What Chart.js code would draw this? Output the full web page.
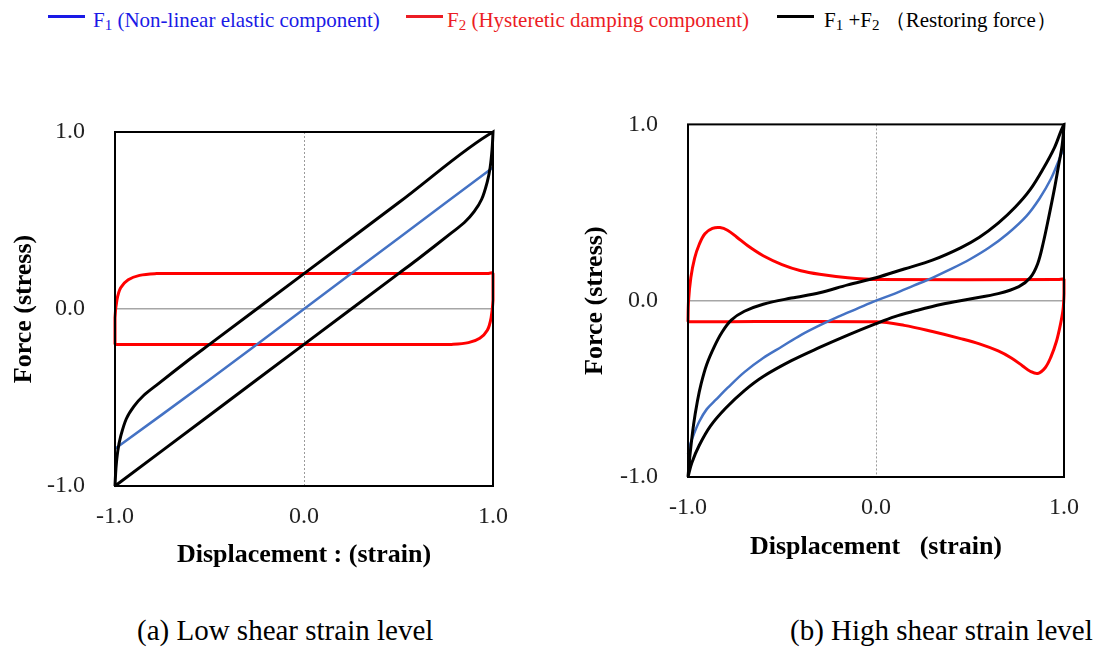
<!DOCTYPE html>
<html>
<head>
<meta charset="utf-8">
<script src="https://cdn.jsdelivr.net/npm/chart.js@4.4.1/dist/chart.umd.min.js"></script>
<style>
  body { margin: 0; width: 1095px; height: 653px; position: relative; background: #fff; overflow: hidden;
         font-family: "Liberation Serif", "Times New Roman", serif; }
  canvas { position: absolute; }
  .leg { position: absolute; top: 10px; font-size: 21px; line-height: 20px; white-space: nowrap;
         font-family: "Liberation Serif", serif; }
  .leg i { position: absolute; top: 5px; height: 3px; width: 37px; }
  .leg sub { font-size: 15px; vertical-align: -3px; line-height: 0; }
  .cap { position: absolute; top: 616px; font-size: 29px; line-height: 29px; white-space: nowrap; color: #000; }
</style>
</head>
<body>
<div class="leg" style="left:48px;color:#1a1ae6"><i style="left:0;background:#1a1ae6"></i><span style="margin-left:45px">F<sub>1</sub> (Non-linear elastic component)</span></div>
<div class="leg" style="left:406px;color:#ec1c24"><i style="left:0;background:#ec1c24"></i><span style="margin-left:41px">F<sub>2</sub> (Hysteretic damping component)</span></div>
<div class="leg" style="left:777px;color:#000"><i style="left:0;background:#000"></i><span style="margin-left:47px">F<sub>1</sub> +F<sub>2</sub> （Restoring force）</span></div>

<canvas id="lowChart" width="540" height="505" style="left:0;top:80px"></canvas>
<canvas id="highChart" width="535" height="505" style="left:560px;top:80px"></canvas>

<div class="cap" style="left:137px">(a) Low shear strain level</div>
<div class="cap" style="left:790px">(b) High shear strain level</div>

<script>
// (a) low shear strain level: [displacement, force]
const lowF1 = [[-1, -0.79], [-0.5, -0.4], [0, 0], [0.5, 0.4], [1, 0.8]];
const lowF2 = [[-1, -0.2], [-1, -0.05], [-0.99, 0.05], [-0.97, 0.12], [-0.93, 0.165], [-0.87, 0.19], [-0.78, 0.2],
  [-0.7, 0.2], [0.97, 0.2], [1, 0.2], [1, 0.05], [0.99, -0.05], [0.97, -0.12], [0.93, -0.165], [0.87, -0.19],
  [0.78, -0.2], [0.7, -0.2], [-0.97, -0.2], [-1, -0.2]];
const lowF12 = [[-1, -1], [-0.995, -0.9], [-0.985, -0.8], [-0.97, -0.72], [-0.94, -0.62], [-0.9, -0.55],
  [-0.85, -0.49], [-0.78, -0.43], [-0.6, -0.28], [-0.5, -0.2], [0, 0.2], [0.5, 0.6], [1, 1], [0.995, 0.9],
  [0.985, 0.8], [0.97, 0.72], [0.94, 0.62], [0.9, 0.55], [0.85, 0.49], [0.78, 0.43], [0.6, 0.28], [0.5, 0.2],
  [0, -0.2], [-0.5, -0.6], [-1, -1]];

// (b) high shear strain level
const highF1 = [[-1, -0.87], [-0.99, -0.82], [-0.97, -0.76], [-0.94, -0.685], [-0.9, -0.615], [-0.85, -0.56],
  [-0.79, -0.495], [-0.7, -0.405], [-0.6, -0.325], [-0.5, -0.26], [-0.4, -0.195], [-0.3, -0.14], [-0.2, -0.09],
  [-0.1, -0.045], [0, 0], [0.1, 0.04], [0.2, 0.085], [0.3, 0.13], [0.4, 0.18], [0.5, 0.235], [0.6, 0.3], [0.7, 0.38],
  [0.8, 0.48], [0.87, 0.58], [0.93, 0.69], [0.97, 0.79], [1, 0.87]];
const highF2 = [[-1, -0.12], [-0.997, 0], [-0.985, 0.13], [-0.965, 0.24], [-0.94, 0.32], [-0.91, 0.38], [-0.87, 0.41],
  [-0.83, 0.415], [-0.79, 0.4], [-0.74, 0.36], [-0.68, 0.31], [-0.6, 0.255], [-0.5, 0.205], [-0.4, 0.17],
  [-0.3, 0.15], [-0.15, 0.13], [0, 0.12], [0.97, 0.12], [1, 0.12], [1, 0.04], [0.995, -0.05], [0.98, -0.14],
  [0.96, -0.23], [0.93, -0.32], [0.9, -0.38], [0.86, -0.413], [0.82, -0.4], [0.78, -0.37], [0.72, -0.325],
  [0.65, -0.285], [0.55, -0.245], [0.45, -0.215], [0.3, -0.175], [0.15, -0.14], [0, -0.12], [-0.97, -0.12],
  [-1, -0.12]];
const highF12 = [[-1, -1], [-0.99, -0.88], [-0.97, -0.7], [-0.95, -0.57], [-0.93, -0.47], [-0.9, -0.36],
  [-0.86, -0.26], [-0.82, -0.18], [-0.77, -0.11], [-0.7, -0.06], [-0.6, -0.02], [-0.45, 0.015], [-0.3, 0.045],
  [-0.15, 0.09], [0, 0.13], [0.15, 0.18], [0.3, 0.23], [0.45, 0.3], [0.55, 0.36], [0.65, 0.44], [0.74, 0.53],
  [0.82, 0.63], [0.89, 0.75], [0.95, 0.87], [1, 1], [0.99, 0.88], [0.97, 0.76], [0.95, 0.64], [0.92, 0.48],
  [0.89, 0.33], [0.86, 0.21], [0.82, 0.13], [0.76, 0.08], [0.65, 0.04], [0.5, 0.01], [0.35, -0.02], [0.2, -0.06],
  [0.1, -0.09], [0, -0.13], [-0.15, -0.195], [-0.3, -0.265], [-0.45, -0.34], [-0.6, -0.43], [-0.7, -0.51],
  [-0.8, -0.61], [-0.88, -0.71], [-0.94, -0.82], [-0.98, -0.92], [-1, -1]];

const serif = '"Liberation Serif", "Times New Roman", serif';

// box round the plot area
const frame = {
  id: 'frame',
  afterDatasetsDraw(chart) {
    const { ctx, chartArea: a } = chart;
    ctx.save();
    ctx.strokeStyle = '#000';
    ctx.lineWidth = 2;
    ctx.strokeRect(a.left, a.top, a.right - a.left, a.bottom - a.top);
    ctx.restore();
  }
};

function series(points, color, width, order) {
  return {
    data: points.map(([x, y]) => ({ x, y })),
    showLine: true,
    borderColor: color,
    borderWidth: width,
    pointRadius: 0,
    tension: 0.35,
    clip: 4,
    order: order
  };
}

function makeChart(id, f1, f2, f12, s) {
  const ctx = document.getElementById(id).getContext('2d');
  return new Chart(ctx, {
    type: 'scatter',
    data: {
      datasets: [
        series(f12, '#000000', 3, 0),
        series(f1, '#4472c4', 2.5, 1),
        series(f2, '#ff0000', 3, 2)
      ]
    },
    options: {
      responsive: false,
      animation: false,
      layout: { padding: { top: s.top, right: s.right, bottom: 0, left: 0 } },
      plugins: { legend: { display: false }, tooltip: { enabled: false } },
      scales: {
        x: {
          type: 'linear', min: -1, max: 1,
          afterFit: (scale) => { scale.height = s.xh; },
          ticks: { stepSize: 1, padding: 16, maxRotation: 0, color: '#222',
                   font: { family: serif, size: 24 }, callback: (v) => v.toFixed(1) },
          grid: { drawTicks: false, lineWidth: 1,
                  color: (c) => (c.tick && c.tick.value === 0 ? '#9b9b9b' : 'rgba(0,0,0,0)') },
          border: { display: false, dash: [2, 2] },
          title: { display: true, text: s.xTitle, color: '#000',
                   font: { family: serif, size: 26, weight: 'bold' }, padding: { top: 0, bottom: s.xtp } }
        },
        y: {
          type: 'linear', min: -1, max: 1,
          afterFit: (scale) => { scale.width = s.yw; },
          ticks: { stepSize: 1, padding: 30, color: '#222',
                   font: { family: serif, size: 24 }, callback: (v) => v.toFixed(1) },
          grid: { drawTicks: false, lineWidth: 1.5,
                  color: (c) => (c.tick && c.tick.value === 0 ? '#a6a6a6' : 'rgba(0,0,0,0)') },
          border: { display: false },
          title: { display: true, text: 'Force (stress)', color: '#000',
                   font: { family: serif, size: 26, weight: 'bold' }, padding: { top: s.ytp, bottom: 0 } }
        }
      }
    },
    plugins: [frame]
  });
}

const lowChart = makeChart('lowChart', lowF1, lowF2, lowF12,
  { top: 52, right: 47, xh: 99, yw: 115, xtp: 14, ytp: 9, xTitle: 'Displacement : (strain)' });
const highChart = makeChart('highChart', highF1, highF2, highF12,
  { top: 43, right: 23, xh: 108, yw: 128, xtp: 22, ytp: 20, xTitle: 'Displacement   (strain)' });
</script>
</body>
</html>
